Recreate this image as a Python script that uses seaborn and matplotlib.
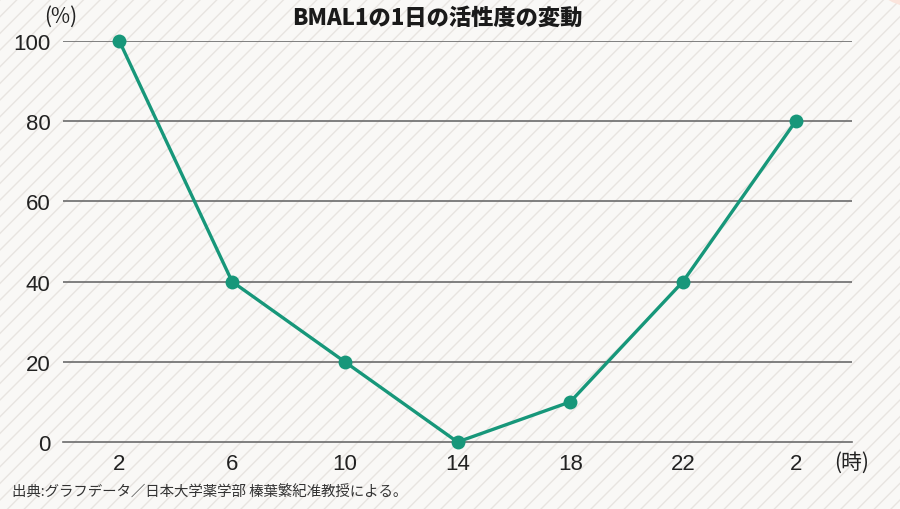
import matplotlib
matplotlib.use("Agg")
import matplotlib.pyplot as plt
import matplotlib.patches as mpatches
import numpy as np
import pandas as pd
import seaborn as sns

hours = ["2", "6", "10", "14", "18", "22", "2"]
activity = [100, 40, 20, 0, 10, 40, 80]
y_ticks = [0, 20, 40, 60, 80, 100]

title = "BMAL1の1日の活性度の変動"
source = "出典:グラフデータ／日本大学薬学部 榛葉繁紀准教授による。"

sns.set_style("white")
plt.rcParams["font.family"] = ["Noto Sans CJK JP", "DejaVu Sans"]
plt.rcParams["hatch.linewidth"] = 1.0
plt.rcParams["hatch.color"] = "#e8e4e0"

df = pd.DataFrame({"pos": np.arange(len(hours)), "value": activity})

fig = plt.figure(figsize=(9, 5.1), dpi=100)
fig.patch.set_facecolor("#f9f8f6")

# striped paper background
bg = mpatches.Rectangle((0, 0), 1, 1, transform=fig.transFigure, facecolor="#f9f8f6",
                        edgecolor="#e8e4e0", hatch="//", linewidth=0, zorder=-10)
fig.patches.append(bg)
corner = mpatches.Circle((1.03, 1.04), 0.06, transform=fig.transFigure,
                         facecolor="#fbe4dc", edgecolor="none", zorder=-9)
fig.patches.append(corner)

ax = fig.add_axes([0.07, 0.1314, 0.8767, 0.7862])
ax.patch.set_alpha(0)

sns.lineplot(data=df, x="pos", y="value", ax=ax, color="#17977a", linewidth=2.4,
             marker="o", markersize=10, markeredgewidth=0, zorder=5, clip_on=False)

ax.set_xlim(-0.5, len(hours) - 0.5)
ax.set_ylim(0, 100)
ax.set_yticks(y_ticks)
ax.set_xticks(df["pos"])
ax.set_xticklabels(hours)
ax.set_xlabel("")
ax.set_ylabel("")

for t in y_ticks[1:]:
    ax.axhline(t, color="#6b6b6b", linewidth=1.2, zorder=1)

for side in ["top", "right", "left"]:
    ax.spines[side].set_visible(False)
ax.spines["bottom"].set_color("#6b6b6b")
ax.spines["bottom"].set_linewidth(1.2)

ax.tick_params(axis="x", direction="in", length=8, width=1, color="#6b6b6b",
               pad=8, labelcolor="#222222")
ax.tick_params(axis="y", length=0, pad=9, labelcolor="#222222")
for lab in ax.get_xticklabels() + ax.get_yticklabels():
    lab.set_family(["Liberation Sans", "DejaVu Sans"])
    lab.set_fontsize(16)

fig.text(0.067, 0.968, "(%)", fontsize=15, ha="center", va="center", color="#222222")
fig.text(0.946, 0.093, "(時)", fontsize=15, ha="center", va="center", color="#222222")
fig.text(0.486, 0.964, title, fontsize=16, fontweight="heavy", ha="center", va="center",
         color="#1a1a1a")
fig.text(0.013, 0.035, source, fontsize=10.4, ha="left", va="center", color="#333333")

fig.savefig("out.png", dpi=100, facecolor=fig.get_facecolor())
